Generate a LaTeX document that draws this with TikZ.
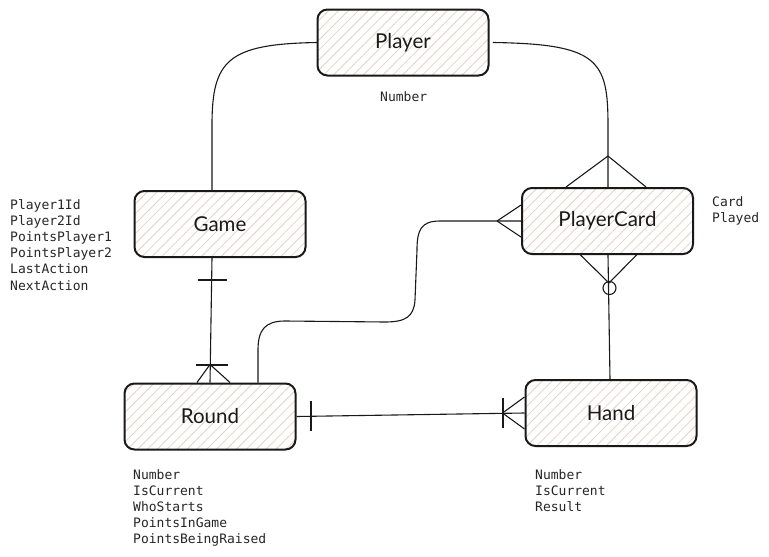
\documentclass[tikz,border=0pt]{standalone}
\usepackage{fontspec}
\setmainfont{Lato}
\newfontfamily\attrfont{DejaVu Sans Mono}
\usetikzlibrary{patterns.meta,calc}
\definecolor{hatch}{RGB}{230,208,196}
\definecolor{ink}{RGB}{25,25,25}
\begin{document}
\begin{tikzpicture}[x=1pt,y=-1pt,
  entity/.style={draw=ink,line width=2pt,rounded corners=10pt,
    minimum width=171pt,minimum height=66pt,inner sep=0pt,
    pattern={Lines[angle=45,distance=7pt,line width=0.8pt]},pattern color=hatch,
    font=\fontsize{20.5}{22}\selectfont,text=ink},
  attr/.style={anchor=north west,inner sep=0pt,align=left,text=black!85,
    font=\attrfont\fontsize{13}{16.2}\selectfont},
  conn/.style={draw=ink,line width=1.1pt},
  crow/.style={draw=ink,line width=1.1pt}]
\useasboundingbox (0,0) rectangle (769,557);
% entities
\node[entity] (player) at (403,42.5) {Player};
\node[entity] (game) at (220,224) {Game};
\node[entity] (card) at (607.5,221) {PlayerCard};
\node[entity] (round) at (210,416.5) {Round};
\node[entity] (hand) at (611,413) {Hand};
% attributes
\node[attr] (pattr) at (380,91) {Number};
\node[attr] (gattr) at (10,199) {Player1Id\\Player2Id\\PointsPlayer1\\PointsPlayer2\\LastAction\\NextAction};
\node[attr] (cattr) at (712,196) {Card\\Played};
\node[attr] (rattr) at (133,469) {Number\\IsCurrent\\WhoStarts\\PointsInGame\\PointsBeingRaised};
\node[attr] (hattr) at (535,469) {Number\\IsCurrent\\Result};
% Player -- Game
\draw[conn] (player.west) .. controls (228,44) and (212,60) .. (212,125) -- ([xshift=-8pt]game.north);
% Player -- PlayerCard (many)
\draw[conn] ([xshift=4pt]player.east) .. controls (598,44) and (608,60) .. (608,125) -- ([xshift=0.5pt]card.north);
\coordinate (f1) at ([xshift=0.5pt,yshift=31pt]card.north);
\draw[crow] (f1) -- ([xshift=-41.5pt]card.north);
\draw[crow] (f1) -- ([xshift=38.5pt]card.north);
% PlayerCard -- Round (many at PlayerCard)
\coordinate (rtop) at ([xshift=48pt]round.north);
\draw[conn] (card.west) -- (440,221) .. controls (421,221) and (417,230) .. (417,250)
  -- (415,300) .. controls (414,317) and (405,322) .. (385,322)
  -- (285,321) .. controls (265,321) and (258,330) .. (258,350) -- (rtop);
\coordinate (f2) at ([xshift=-24pt]card.west);
\draw[crow] (f2) -- ([yshift=16pt]card.west);
\draw[crow] (f2) -- ([yshift=-16pt]card.west);
% Game -- Round (one -- one or many)
\draw[conn] ([xshift=-8pt]game.south) -- (round.north);
\draw[crow] (198,280) -- (227,280);
\draw[crow] (196,365) -- (228,365);
\coordinate (f3) at ([yshift=18pt]round.north);
\draw[crow] (f3) -- ([xshift=-13pt]round.north);
\draw[crow] (f3) -- ([xshift=20pt]round.north);
% Round -- Hand (one -- one or many)
\draw[conn] (round.east) -- (hand.west);
\draw[crow] (311,401) -- (311,431);
\draw[crow] (503,398) -- (503,428);
\coordinate (f4) at ([xshift=-22pt]hand.west);
\draw[crow] (f4) -- ([yshift=16pt]hand.west);
\draw[crow] (f4) -- ([yshift=-16pt]hand.west);
% PlayerCard -- Hand (zero or many at PlayerCard)
\draw[conn] ([xshift=0.5pt]card.south) -- ([xshift=-1pt]hand.north);
\draw[crow] (609.5,288) circle (6.5pt);
\coordinate (f5) at ([xshift=1.5pt,yshift=-28pt]card.south);
\draw[crow] (f5) -- ([xshift=-27pt]card.south);
\draw[crow] (f5) -- ([xshift=29pt]card.south);
\end{tikzpicture}
\end{document}
